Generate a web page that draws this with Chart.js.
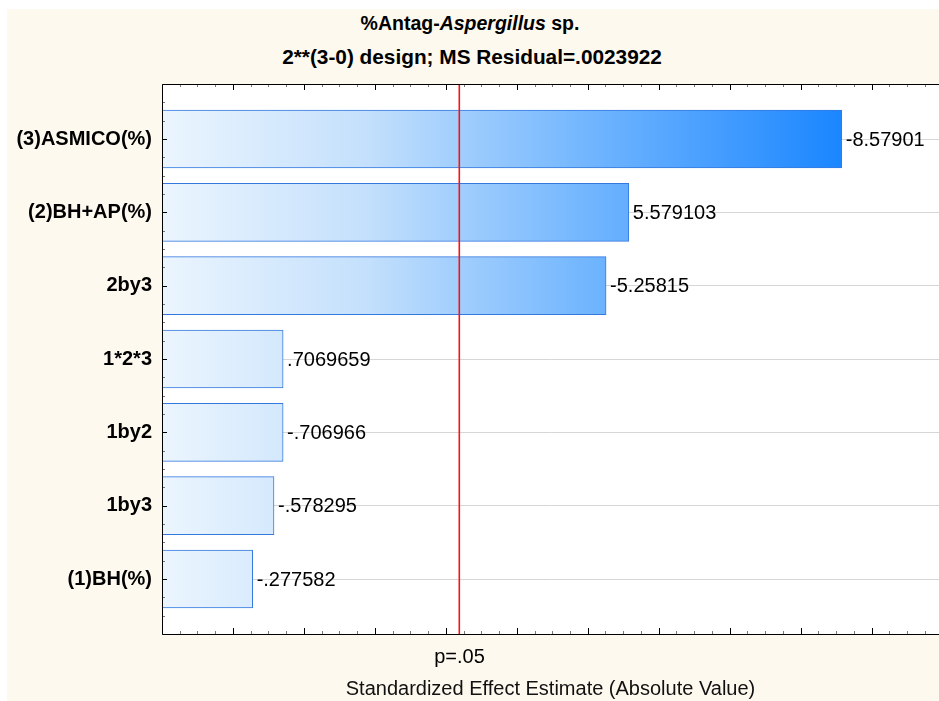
<!DOCTYPE html>
<html>
<head>
<meta charset="utf-8">
<script src="https://cdn.jsdelivr.net/npm/chart.js@4.4.1/dist/chart.umd.min.js"></script>
<style>
  html, body { margin: 0; padding: 0; background: #fff; }
  #wrap { position: relative; width: 939px; height: 701px; overflow: hidden; }
  #bg { position: absolute; left: 7px; top: 9px; right: 0; bottom: 0; background: #fdf9ef; }
  #chart { position: absolute; left: 0; top: 0; }
  .ttl { position: absolute; font-family: Arial, "Liberation Sans", sans-serif; font-weight: bold;
         color: #000; white-space: nowrap; transform: translate(-50%, -50%); }
</style>
</head>
<body>
<div id="wrap">
  <div id="bg"></div>
  <div class="ttl" style="left:470px; top:23px; font-size:19.5px;">%Antag-<i>Aspergillus</i> sp.</div>
  <div class="ttl" style="left:472px; top:57px; font-size:20.8px;">2**(3-0) design; MS Residual=.0023922</div>
  <canvas id="chart" width="939" height="701"></canvas>
</div>
<script>
// --- données ---
const TERMS = ['(3)ASMICO(%)', '(2)BH+AP(%)', '2by3', '1*2*3', '1by2', '1by3', '(1)BH(%)'];
const EFFECTS = [-8.57901, 5.579103, -5.25815, 0.7069659, -0.706966, -0.578295, -0.277582];
const P_CRIT = 3.182;          // t critique, p=.05
const P_LABEL = 'p=.05';
const X_TITLE = 'Standardized Effect Estimate (Absolute Value)';
const X_MIN = -1, X_MAX = 9.95;

const FONT = 'Arial, "Liberation Sans", sans-serif';
Chart.defaults.font.family = FONT;

const maxAbs = Math.max(...EFFECTS.map(Math.abs));
const isInt = v => Math.abs(v - Math.round(v)) < 1e-6;
const fmt = v => String(v).replace('0.', '.');

// dégradé horizontal commun à toutes les barres
function barFill(ctx) {
    const chart = ctx.chart;
    const area = chart.chartArea;
    if (!area) return '#8fc3fd';
    const xEnd = chart.scales.x.getPixelForValue(maxAbs);
    const g = chart.ctx.createLinearGradient(area.left, 0, xEnd, 0);
    g.addColorStop(0, '#ebf5fe');
    g.addColorStop(0.3, '#c4e0fc');
    g.addColorStop(0.6, '#78b9fe');
    g.addColorStop(1, '#1a86ff');
    return g;
}

const paretoDecor = {
    id: 'paretoDecor',
    beforeDraw(chart) {
        const { ctx, chartArea: a } = chart;
        ctx.save();
        ctx.fillStyle = '#ffffff';
        ctx.fillRect(a.left, a.top, a.right - a.left, a.bottom - a.top);
        ctx.restore();
    },
    afterDraw(chart) {
        const { ctx, chartArea: a, scales: { x, y } } = chart;
        ctx.save();
        ctx.lineWidth = 1;
        // graduations
        for (let v = X_MIN; v <= X_MAX + 1e-9; v += 0.25) {
            const px = Math.round(x.getPixelForValue(v)) + 0.5;
            const len = isInt(v) ? 6 : 3;
            ctx.strokeStyle = isInt(v) ? '#000' : '#777';
            ctx.beginPath();
            ctx.moveTo(px, a.bottom); ctx.lineTo(px, a.bottom - len);
            ctx.moveTo(px, a.top); ctx.lineTo(px, a.top + len);
            ctx.stroke();
        }
        for (let v = -0.75; v <= 6.75 + 1e-9; v += 0.25) {
            const py = Math.round(y.getPixelForValue(v)) + 0.5;
            const len = isInt(v) ? 5 : 3;
            ctx.strokeStyle = isInt(v) ? '#000' : '#777';
            ctx.beginPath();
            ctx.moveTo(a.left, py); ctx.lineTo(a.left + len, py);
            ctx.stroke();
        }
        // cadre
        ctx.strokeStyle = '#000';
        ctx.beginPath();
        const l = Math.round(a.left) + 0.5, t = Math.round(a.top) + 0.5, b = Math.round(a.bottom) + 0.5;
        ctx.moveTo(a.right, t); ctx.lineTo(l, t); ctx.lineTo(l, b); ctx.lineTo(a.right, b);
        ctx.stroke();

        // ligne p=.05 (rouge)
        const xp = Math.round(x.getPixelForValue(P_CRIT));
        ctx.fillStyle = '#ff1010';
        ctx.fillRect(xp - 0.5, Math.round(a.top) + 1, 1.6, Math.round(a.bottom - a.top) - 1);

        // étiquettes des valeurs
        ctx.fillStyle = '#000';
        ctx.font = '20px ' + FONT;
        ctx.textBaseline = 'middle';
        ctx.textAlign = 'left';
        chart.getDatasetMeta(0).data.forEach((bar, i) => {
            ctx.fillText(fmt(EFFECTS[i]), bar.x + 4, bar.y + 1);
        });
        ctx.textAlign = 'center';
        ctx.fillText(P_LABEL, xp + 0.5, a.bottom + 23);
        ctx.restore();
    }
};

new Chart(document.getElementById('chart'), {
    type: 'bar',
    data: {
        datasets: [{
            data: TERMS.map((t, i) => ({ x: Math.abs(EFFECTS[i]), y: i })),
            base: X_MIN,
            barThickness: 58,
            backgroundColor: barFill,
            borderColor: '#3479e0',
            borderWidth: 1,
            borderSkipped: false
        }]
    },
    options: {
        indexAxis: 'y',
        responsive: false,
        animation: false,
        layout: { padding: { top: 84, right: 0, bottom: 0, left: 0 } },
        plugins: { legend: { display: false }, tooltip: { enabled: false } },
        scales: {
            x: {
                type: 'linear',
                min: X_MIN,
                max: X_MAX,
                grid: { display: false },
                border: { display: false },
                ticks: { display: false },
                title: { display: true, text: X_TITLE, color: '#111', font: { size: 20 }, padding: 0 },
                afterFit: s => { s.height = 67; }
            },
            y: {
                type: 'linear',
                reverse: true,
                offset: false,
                min: -0.75,
                max: 6.75,
                border: { display: false },
                grid: {
                    offset: false,
                    drawTicks: false,
                    color: c => (c.tick && isInt(c.tick.value)) ? '#d6d6d6' : 'rgba(0,0,0,0)'
                },
                ticks: {
                    stepSize: 0.25,
                    autoSkip: false,
                    padding: 10,
                    color: '#000',
                    font: { size: 20, weight: 'bold' },
                    callback: v => isInt(v) ? TERMS[Math.round(v)] : ''
                },
                afterFit: s => { s.width = 162; }
            }
        }
    },
    plugins: [paretoDecor]
});
</script>
</body>
</html>
